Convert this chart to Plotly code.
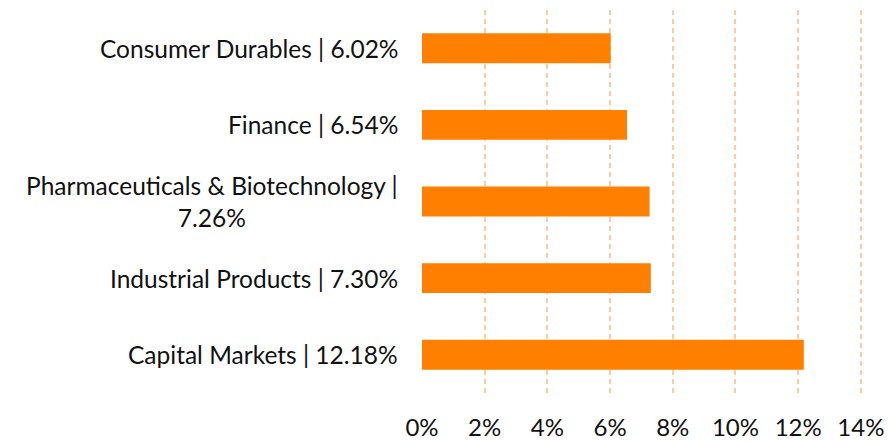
import plotly.graph_objects as go

categories = ["Consumer Durables", "Finance", "Pharmaceuticals & Biotechnology",
              "Industrial Products", "Capital Markets"]
values = [6.02, 6.54, 7.26, 7.30, 12.18]
label_texts = ["Consumer Durables | 6.02%", "Finance | 6.54%",
               "Pharmaceuticals & Biotechnology |<br>7.26%",
               "Industrial Products | 7.30%", "Capital Markets | 12.18%"]
x_ticks = [0, 2, 4, 6, 8, 10, 12, 14]
x_tick_labels = ["0%", "2%", "4%", "6%", "8%", "10%", "12%", "14%"]

FONT = "Lato, 'Open Sans', sans-serif"

fig = go.Figure(go.Bar(
    x=values, y=categories, orientation="h",
    marker=dict(color="#FF8000", line=dict(width=0)),
    hoverinfo="skip",
))

for cat, txt in zip(categories, label_texts):
    fig.add_annotation(
        x=0, xref="paper", y=cat, yref="y", text=txt,
        xanchor="right", yanchor="middle", align="center",
        xshift=-22, showarrow=False,
        font=dict(family=FONT, size=24.5, color="#111111"),
    )

fig.update_layout(
    width=891, height=441,
    margin=dict(l=422, r=27, t=10, b=48, autoexpand=False),
    plot_bgcolor="white", paper_bgcolor="white",
    bargap=0.61, showlegend=False,
    font=dict(family=FONT, size=24, color="#111111"),
)
fig.update_xaxes(
    range=[0, 14.1], tickvals=x_ticks, ticktext=x_tick_labels,
    showgrid=True, gridcolor="#FFCB9C", griddash="5px,4px", gridwidth=1.5,
    zeroline=False, showline=False, automargin=False,
    ticks="outside", ticklen=13, tickcolor="rgba(0,0,0,0)",
    tickfont=dict(family=FONT, size=24, color="#111111"),
)
fig.update_yaxes(
    categoryorder="array", categoryarray=categories[::-1],
    showticklabels=False, showgrid=False, zeroline=False, showline=False,
    automargin=False,
)

fig.write_html(
    "out.html",
    config={"displayModeBar": False},
    post_script="document.body.style.margin='0';document.body.style.overflow='hidden';",
)
